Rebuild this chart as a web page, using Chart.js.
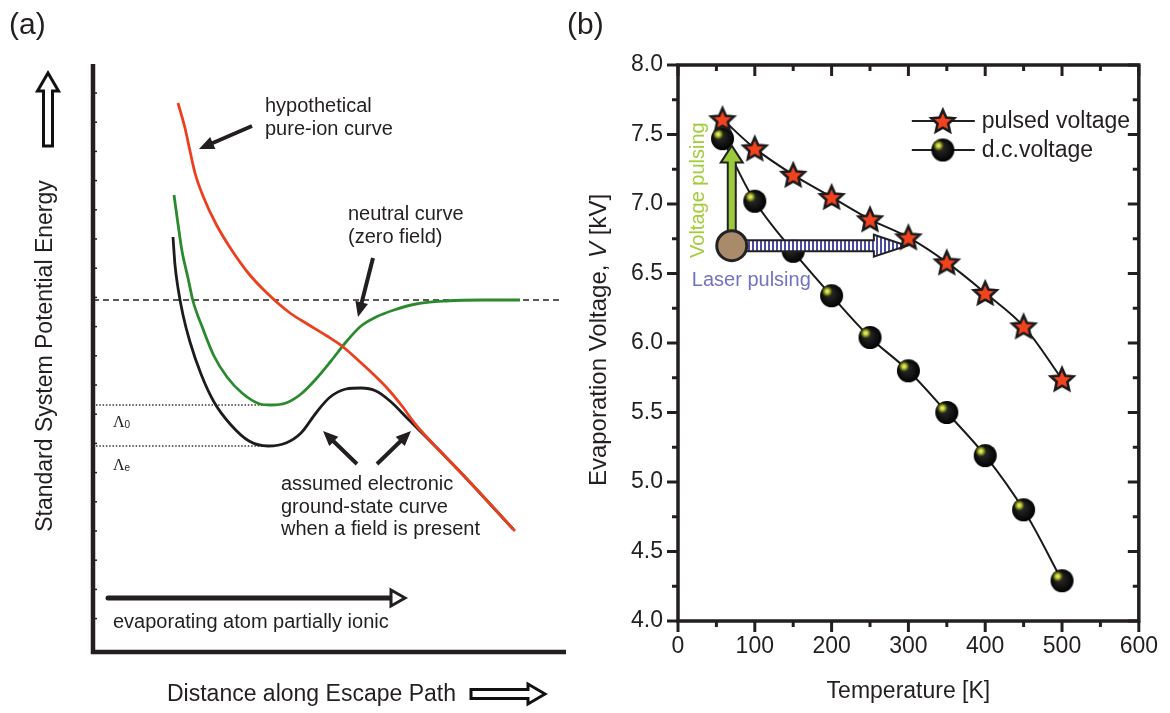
<!DOCTYPE html>
<html>
<head>
<meta charset="utf-8">
<title>Field evaporation</title>
<script src="https://cdn.jsdelivr.net/npm/chart.js@4.4.1/dist/chart.umd.min.js"></script>
<style>
  html, body { margin: 0; padding: 0; background: #fff; }
  body { width: 1170px; height: 713px; position: relative; overflow: hidden; }
  canvas { position: absolute; top: 0; }
  #chartA { left: 0; }
  #chartB { left: 560px; }
</style>
</head>
<body>
<canvas id="chartA" width="580" height="713"></canvas>
<canvas id="chartB" width="610" height="713"></canvas>
<script>
// ---- panel (a): schematic curves, arbitrary units (distance, energy) ----
const pureIonX = [85, 92, 97, 102, 110, 123, 138, 156, 175, 197, 216, 234, 249, 266, 279, 294, 309, 323, 346, 372, 398, 422];
const pureIonY = [549, 524, 501, 479, 456, 428, 403, 378, 358, 339, 327, 316, 306, 291, 279, 264, 246, 227, 202, 175, 147, 121];
const neutralX = [81, 85, 89, 95, 100, 110, 121, 134, 149, 167, 178, 193, 208, 223, 238, 253, 268, 283, 301, 323, 353, 390, 427];
const neutralY = [457, 428, 401, 374, 351, 323, 296, 275, 259, 248, 247, 249, 258, 273, 291, 310, 326, 335, 342, 348, 351, 352, 352];
const groundX = [80, 82, 85, 90, 97, 108, 121, 138, 156, 175, 193, 208, 223, 236, 253, 268, 283, 297, 316, 346, 372, 398, 420];
const groundY = [415, 387, 364, 337, 310, 278, 250, 227, 211, 206, 209, 219, 239, 254, 263, 264, 261, 251, 232, 202, 175, 147, 123];
const neutralLevel = 352;   // dashed line
const lambda0Level = 247;   // dotted, green minimum
const lambdaELevel = 206;   // dotted, black minimum

// ---- panel (b): evaporation voltage vs temperature ----
const temperatures = [58, 100, 150, 200, 250, 300, 350, 400, 450, 500];
const pulsedVoltage = [7.61, 7.40, 7.21, 7.05, 6.89, 6.76, 6.58, 6.36, 6.12, 5.74];
const dcVoltage = [7.47, 7.02, 6.66, 6.34, 6.04, 5.80, 5.50, 5.19, 4.80, 4.29];
const tempTicks = [0, 100, 200, 300, 400, 500, 600];
const voltTicks = [4.0, 4.5, 5.0, 5.5, 6.0, 6.5, 7.0, 7.5, 8.0];

const FONT = "'Liberation Sans', Arial, Helvetica, sans-serif";
const INK = '#231f20';

function toPoints(xs, ys) {
  return xs.map((x, i) => ({ x: x, y: ys[i] }));
}

// polygon of an arrow from (x0,y0) to tip (x1,y1)
function arrowPath(ctx, x0, y0, x1, y1, sw, hw, hl) {
  const ang = Math.atan2(y1 - y0, x1 - x0);
  const len = Math.hypot(x1 - x0, y1 - y0);
  ctx.save();
  ctx.translate(x0, y0);
  ctx.rotate(ang);
  ctx.beginPath();
  ctx.moveTo(0, -sw / 2);
  ctx.lineTo(len - hl, -sw / 2);
  ctx.lineTo(len - hl, -hw / 2);
  ctx.lineTo(len, 0);
  ctx.lineTo(len - hl, hw / 2);
  ctx.lineTo(len - hl, sw / 2);
  ctx.lineTo(0, sw / 2);
  ctx.closePath();
  ctx.restore();
}

function line(ctx, x0, y0, x1, y1) {
  ctx.beginPath();
  ctx.moveTo(x0, y0);
  ctx.lineTo(x1, y1);
  ctx.stroke();
}

// ================= panel (a) =================
const notesA = [
  { lines: ['hypothetical', 'pure-ion curve'], x: 172, y: 540 },
  { lines: ['neutral curve', '(zero field)'], x: 255, y: 432 },
  { lines: ['assumed electronic', 'ground-state curve', 'when a field is present'], x: 188, y: 162 }
];
const pointersA = [
  [159, 526, 106, 503],
  [280, 394, 265, 335],
  [264, 188, 230, 221],
  [284, 188, 318, 221]
];

const schematic = {
  id: 'schematic',
  afterDraw(chart) {
    const { ctx, chartArea: a, scales: { x, y } } = chart;
    const px = v => x.getPixelForValue(v);
    const py = v => y.getPixelForValue(v);
    ctx.save();

    // axes
    ctx.strokeStyle = INK;
    ctx.lineWidth = 4.5;
    ctx.lineCap = 'butt';
    ctx.beginPath();
    ctx.moveTo(a.left, a.top);
    ctx.lineTo(a.left, a.bottom);
    ctx.lineTo(a.right, a.bottom);
    ctx.stroke();
    ctx.lineWidth = 1.5;
    for (let k = 0; k < 19; k++) {
      const t = py(559 - 29.2 * k);
      line(ctx, a.left, t, a.left + 4, t);
    }

    // pointer arrows
    ctx.fillStyle = INK;
    pointersA.forEach(p => {
      arrowPath(ctx, px(p[0]), py(p[1]), px(p[2]), py(p[3]), 4, 13, 15);
      ctx.fill();
    });

    // bottom arrow "evaporating atom partially ionic"
    const by = py(54);
    ctx.lineWidth = 5;
    ctx.lineCap = 'round';
    line(ctx, px(15), by, px(298), by);
    ctx.lineCap = 'butt';
    ctx.beginPath();
    ctx.moveTo(px(298), by - 8);
    ctx.lineTo(px(312), by);
    ctx.lineTo(px(298), by + 8);
    ctx.closePath();
    ctx.fillStyle = '#fff';
    ctx.fill();
    ctx.lineWidth = 3;
    ctx.lineJoin = 'miter';
    ctx.stroke();

    // notes
    ctx.fillStyle = INK;
    ctx.font = '20px ' + FONT;
    ctx.textBaseline = 'alphabetic';
    ctx.textAlign = 'left';
    notesA.forEach(n => {
      n.lines.forEach((s, i) => ctx.fillText(s, px(n.x), py(n.y) + i * 22.5));
    });
    ctx.fillText('evaporating atom partially ionic', px(20), py(24));

    // Lambda labels
    [['0', 225], ['e', 182]].forEach(([sub, yv]) => {
      ctx.font = '16px "Liberation Serif", "Times New Roman", serif';
      ctx.fillText('\u039B', px(20), py(yv));
      const w = ctx.measureText('\u039B').width;
      ctx.font = '10px ' + FONT;
      ctx.fillText(sub, px(20) + w, py(yv) + 1);
    });

    // axis titles with hollow arrows
    ctx.font = '23px ' + FONT;
    ctx.textBaseline = 'middle';
    ctx.save();
    ctx.translate(46, 356);
    ctx.rotate(-Math.PI / 2);
    ctx.textAlign = 'center';
    ctx.fillText('Standard System Potential Energy', 0, 0);
    ctx.restore();
    ctx.fillText('Distance along Escape Path', 167, 695);

    ctx.lineWidth = 3;
    ctx.strokeStyle = '#111';
    ctx.fillStyle = '#fff';
    arrowPath(ctx, 48, 146, 48, 73, 9, 21, 18);
    ctx.fill();
    ctx.stroke();
    arrowPath(ctx, 471, 694, 545, 694, 9, 20, 17);
    ctx.fill();
    ctx.stroke();

    ctx.fillStyle = INK;
    ctx.font = '30px ' + FONT;
    ctx.fillText('(a)', 9, 26);
    ctx.restore();
  }
};

const curveStyle = { showLine: true, pointRadius: 0, borderWidth: 2.8, cubicInterpolationMode: 'monotone', fill: false };

new Chart(document.getElementById('chartA'), {
  type: 'scatter',
  data: {
    datasets: [
      Object.assign({ label: 'pure-ion', data: toPoints(pureIonX, pureIonY), borderColor: '#ec3f1d' }, curveStyle),
      Object.assign({ label: 'neutral', data: toPoints(neutralX, neutralY), borderColor: '#2b8a2e' }, curveStyle),
      Object.assign({ label: 'ground state', data: toPoints(groundX, groundY), borderColor: '#1c1c1c' }, curveStyle),
      { label: 'neutral level', data: [{ x: 0, y: neutralLevel }, { x: 466, y: neutralLevel }], showLine: true, pointRadius: 0,
        borderColor: '#222', borderWidth: 1.6, borderDash: [6, 4] },
      { label: 'lambda 0', data: [{ x: 3, y: lambda0Level }, { x: 177, y: lambda0Level }], showLine: true, pointRadius: 0,
        borderColor: '#333', borderWidth: 1.5, borderDash: [1.5, 1.8] },
      { label: 'lambda e', data: [{ x: 3, y: lambdaELevel }, { x: 172, y: lambdaELevel }], showLine: true, pointRadius: 0,
        borderColor: '#333', borderWidth: 1.5, borderDash: [1.5, 1.8] }
    ]
  },
  options: {
    responsive: false,
    animation: false,
    events: [],
    layout: { padding: { left: 93, right: 14, top: 64, bottom: 61 } },
    plugins: { legend: { display: false }, tooltip: { enabled: false } },
    scales: {
      x: { type: 'linear', display: false, min: 0, max: 473 },
      y: { type: 'linear', display: false, min: 0, max: 588 }
    }
  },
  plugins: [schematic]
});

// ================= panel (b) =================
function makeStar(R) {
  const s = Math.ceil(R * 2 + 6);
  const c = document.createElement('canvas');
  c.width = c.height = s;
  const g = c.getContext('2d');
  g.translate(s / 2, s / 2 + 1);
  g.beginPath();
  for (let i = 0; i < 10; i++) {
    const r = i % 2 ? R * 0.47 : R;
    const an = -Math.PI / 2 + i * Math.PI / 5;
    g.lineTo(r * Math.cos(an), r * Math.sin(an));
  }
  g.closePath();
  g.fillStyle = '#f2431f';
  g.fill();
  g.lineWidth = 2.6;
  g.strokeStyle = '#1a1a1a';
  g.stroke();
  return c;
}

function makeBall(r) {
  const s = Math.ceil(r * 2 + 4);
  const c = document.createElement('canvas');
  c.width = c.height = s;
  const g = c.getContext('2d');
  g.translate(s / 2, s / 2);
  const body = g.createRadialGradient(-r * 0.3, -r * 0.3, r * 0.1, 0, 0, r);
  body.addColorStop(0, '#2e2e2e');
  body.addColorStop(1, '#020202');
  g.beginPath();
  g.arc(0, 0, r, 0, Math.PI * 2);
  g.fillStyle = body;
  g.fill();
  const hr = r * 0.5, hx = -r * 0.38, hy = -r * 0.38;
  const hl = g.createRadialGradient(hx, hy, 0, hx, hy, hr);
  hl.addColorStop(0, '#f4f68a');
  hl.addColorStop(0.35, '#c4cc3a');
  hl.addColorStop(0.7, 'rgba(120,130,20,0.7)');
  hl.addColorStop(1, 'rgba(60,70,10,0)');
  g.beginPath();
  g.arc(hx, hy, hr, 0, Math.PI * 2);
  g.fillStyle = hl;
  g.fill();
  return c;
}

const starImg = makeStar(12);
const ballImg = makeBall(11.5);

const stripe = document.createElement('canvas');
stripe.width = 4; stripe.height = 1;
(function () {
  const g = stripe.getContext('2d');
  g.fillStyle = '#fff'; g.fillRect(0, 0, 4, 1);
  g.fillStyle = '#4a4aa2'; g.fillRect(0, 0, 2, 1);
})();

const pulseOrigin = [70, 6.70];   // brown circle
const voltageTip = 7.42;          // green arrow tip (kV)
const laserTip = 298;             // laser arrow tip (K)

function drawPulsing(chart) {
  const { ctx, scales: { x, y } } = chart;
  const cx = x.getPixelForValue(pulseOrigin[0]);
  const cy = y.getPixelForValue(pulseOrigin[1]);
  ctx.save();
  ctx.lineJoin = 'miter';
  ctx.strokeStyle = '#222';
  ctx.lineWidth = 2;
  arrowPath(ctx, cx + 8, cy, x.getPixelForValue(laserTip), cy, 11, 22, 33);
  ctx.fillStyle = ctx.createPattern(stripe, 'repeat');
  ctx.fill();
  ctx.stroke();
  arrowPath(ctx, cx, cy - 8, cx, y.getPixelForValue(voltageTip), 8, 22, 17);
  ctx.fillStyle = '#9bcb3b';
  ctx.fill();
  ctx.stroke();
  ctx.beginPath();
  ctx.arc(cx, cy, 15, 0, Math.PI * 2);
  ctx.fillStyle = '#a98b6c';
  ctx.fill();
  ctx.lineWidth = 3;
  ctx.stroke();

  ctx.font = '20px ' + FONT;
  ctx.textBaseline = 'middle';
  ctx.fillStyle = '#a3cc3a';
  ctx.save();
  ctx.translate(x.getPixelForValue(27), y.getPixelForValue(7.10));
  ctx.rotate(-Math.PI / 2);
  ctx.textAlign = 'center';
  ctx.fillText('Voltage pulsing', 0, 0);
  ctx.restore();
  ctx.fillStyle = '#7272c2';
  ctx.textAlign = 'left';
  ctx.fillText('Laser pulsing', x.getPixelForValue(18), y.getPixelForValue(6.45));
  ctx.restore();
}

const frameB = {
  id: 'frameB',
  afterDatasetDraw(chart, args) {
    if (args.index === 1) drawPulsing(chart);
  },
  afterDraw(chart) {
    const { ctx, chartArea: a, scales: { x, y } } = chart;
    ctx.save();
    ctx.strokeStyle = INK;
    ctx.lineWidth = 3;
    // minor + major ticks: out on left/bottom, in on top/right
    for (let k = 0; k <= 12; k++) {
      const p = x.getPixelForValue(k * 50);
      const len = k % 2 === 0 ? 11 : 6;
      line(ctx, p, a.bottom, p, a.bottom + len);
      line(ctx, p, a.top, p, a.top + len);
    }
    for (let k = 0; k <= 16; k++) {
      const p = y.getPixelForValue(4 + k * 0.25);
      const len = k % 2 === 0 ? 11 : 6;
      line(ctx, a.left - len, p, a.left, p);
      line(ctx, a.right - len, p, a.right, p);
    }
    ctx.lineWidth = 3.5;
    ctx.strokeRect(a.left, a.top, a.right - a.left, a.bottom - a.top);

    // legend
    ctx.font = '23px ' + FONT;
    ctx.textBaseline = 'middle';
    ctx.textAlign = 'left';
    ctx.fillStyle = INK;
    ctx.lineWidth = 2;
    chart.data.datasets.forEach((ds, i) => {
      const ly = a.top + 56 + i * 29;
      line(ctx, a.right - 227, ly, a.right - 164, ly);
      const img = ds.pointStyle;
      ctx.drawImage(img, a.right - 196 - img.width / 2, ly - img.height / 2);
      ctx.fillText(ds.label, a.right - 157, ly + 1);
    });

    // y title with italic V
    const parts = [['Evaporation Voltage, ', ''], ['V', 'italic '], [' [kV]', '']];
    ctx.save();
    ctx.translate(39, (a.top + a.bottom) / 2 - 3);
    ctx.rotate(-Math.PI / 2);
    let total = 0;
    parts.forEach(p => { ctx.font = p[1] + '24px ' + FONT; total += ctx.measureText(p[0]).width; });
    let cur = -total / 2;
    parts.forEach(p => {
      ctx.font = p[1] + '24px ' + FONT;
      ctx.fillText(p[0], cur, 0);
      cur += ctx.measureText(p[0]).width;
    });
    ctx.restore();

    ctx.font = '30px ' + FONT;
    ctx.fillText('(b)', 7, 26);
    ctx.restore();
  }
};

const tickFont = { family: FONT, size: 23 };

new Chart(document.getElementById('chartB'), {
  type: 'scatter',
  data: {
    datasets: [
      { label: 'pulsed voltage', data: toPoints(temperatures, pulsedVoltage), showLine: true,
        borderColor: '#1a1a1a', borderWidth: 2, pointStyle: starImg, pointRadius: 11, tension: 0.35 },
      { label: 'd.c.voltage', data: toPoints(temperatures, dcVoltage), showLine: true,
        borderColor: '#1a1a1a', borderWidth: 2, pointStyle: ballImg, pointRadius: 10, tension: 0.35 }
    ]
  },
  options: {
    responsive: false,
    animation: false,
    events: [],
    layout: { padding: { left: 0, right: 25, top: 65, bottom: 0 } },
    plugins: { legend: { display: false }, tooltip: { enabled: false } },
    scales: {
      x: {
        type: 'linear', min: 0, max: 600,
        afterBuildTicks: s => { s.ticks = tempTicks.map(v => ({ value: v })); },
        afterFit: s => { s.height = 92; },
        grid: { display: false, drawTicks: false },
        border: { display: false },
        ticks: { padding: 12, color: INK, font: tickFont, callback: v => String(v) },
        title: { display: true, text: 'Temperature [K]', color: INK, font: { family: FONT, size: 23 },
          padding: { top: 0, bottom: 8 } }
      },
      y: {
        type: 'linear', min: 4, max: 8,
        afterBuildTicks: s => { s.ticks = voltTicks.map(v => ({ value: v })); },
        afterFit: s => { s.width = 118; },
        grid: { display: false, drawTicks: false },
        border: { display: false },
        ticks: { padding: 15, color: INK, font: tickFont, callback: v => Number(v).toFixed(1) }
      }
    }
  },
  plugins: [frameB]
});
</script>
</body>
</html>
